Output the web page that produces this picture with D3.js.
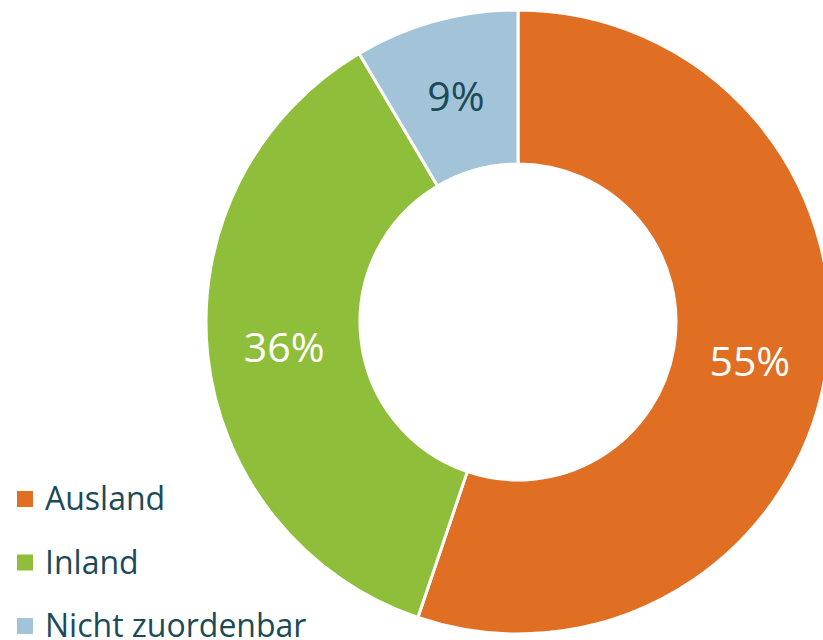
<!DOCTYPE html>
<html>
<head>
<meta charset="utf-8">
<script src="https://cdn.jsdelivr.net/npm/d3@7.9.0/dist/d3.min.js"></script>
<style>
  body { margin: 0; background: #fff; }
  svg { display: block; font-family: "Open Sans", sans-serif; }
</style>
</head>
<body>
<svg id="chart" width="823" height="640"></svg>
<script>
// Data
const categories = ['Ausland', 'Inland', 'Nicht zuordenbar'];
const shares = [55.2, 36.3, 8.5];
const labels = ['55%', '36%', '9%'];
const colors = ['#e06e23', '#8fbe3a', '#a3c4d8'];
const labelColors = ['#ffffff', '#ffffff', '#1b4a58'];

const svg = d3.select('#chart');
const cx = 518, cy = 322;
const outerR = 312, innerR = 158;

const data = categories.map((c, i) => ({ name: c, value: shares[i], label: labels[i], color: colors[i], textColor: labelColors[i] }));

const pie = d3.pie()
  .value(d => d.value)
  .sort(null);

const arc = d3.arc()
  .innerRadius(innerR)
  .outerRadius(outerR);

const labelArc = d3.arc()
  .innerRadius((innerR + outerR) / 2)
  .outerRadius((innerR + outerR) / 2);

const g = svg.append('g').attr('transform', `translate(${cx},${cy})`);

const arcs = pie(data);

g.selectAll('path')
  .data(arcs)
  .join('path')
  .attr('d', arc)
  .attr('fill', d => d.data.color)
  .attr('stroke', '#ffffff')
  .attr('stroke-width', 3);

g.selectAll('text')
  .data(arcs)
  .join('text')
  .attr('transform', d => `translate(${labelArc.centroid(d)})`)
  .attr('text-anchor', 'middle')
  .attr('dominant-baseline', 'central')
  .attr('font-size', 41)
  .attr('fill', d => d.data.textColor)
  .text(d => d.data.label);

// Legend
const legend = svg.append('g').attr('transform', 'translate(17,510)');
const rowH = 63.5;
const items = legend.selectAll('g')
  .data(data)
  .join('g')
  .attr('transform', (d, i) => `translate(0,${i * rowH})`);

items.append('rect')
  .attr('x', 0)
  .attr('y', -19)
  .attr('width', 16)
  .attr('height', 16)
  .attr('fill', d => d.color);

items.append('text')
  .attr('x', 28)
  .attr('y', 0)
  .attr('font-size', 32)
  .attr('fill', '#1b4a58')
  .text(d => d.name);
</script>
</body>
</html>
